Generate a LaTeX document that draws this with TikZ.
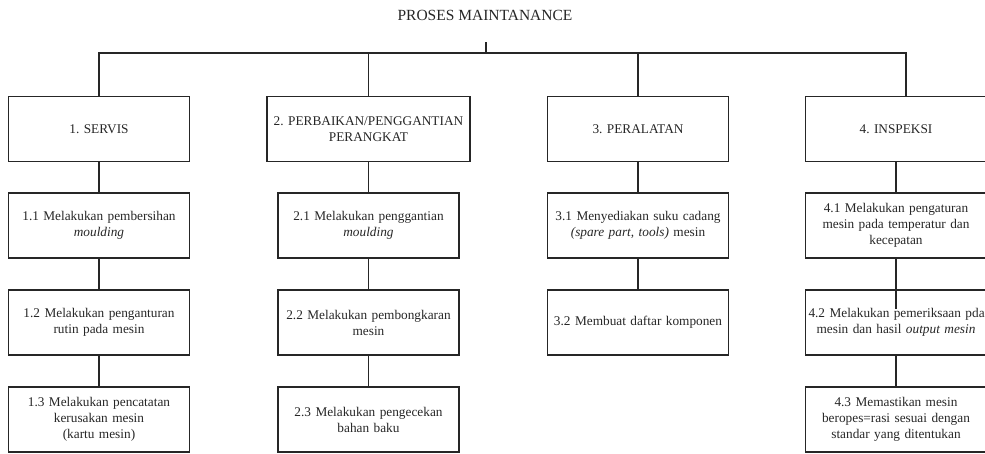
\documentclass[tikz,border=0pt]{standalone}
\usepackage{fontspec}
\setmainfont{Liberation Serif}
\usetikzlibrary{positioning}
\frenchspacing

\tikzset{
    box/.style={rectangle, draw=black!85, line width=1.4pt, text=black!85, minimum width=181pt, minimum height=65pt, text width=175pt, align=center, inner sep=2pt, font=\fontsize{13.3}{16}\selectfont},
    widebox/.style={box, minimum width=203pt, text width=197pt},
    link/.style={line width=1.4pt, black!85}
}

\begin{document}
\begin{tikzpicture}[x=1pt, y=-1pt]
    \useasboundingbox (0,0) rectangle (985,453);
    \node[text=black!85, font=\fontsize{15.5}{18}\selectfont] (title) at (485,15) {PROSES MAINTANANCE};
    \coordinate (stub) at (486,42);
    \coordinate (top) at (486,53);
    \coordinate (bl) at (99,53);
    \coordinate (br) at (906,53);

    % kategori
    \node[box] (s1) at (99,129) {1. SERVIS};
    \node[widebox] (s2) at (368.5,129) {2. PERBAIKAN/PENGGANTIAN\\PERANGKAT};
    \node[box] (s3) at (638,129) {3. PERALATAN};
    \node[box] (s4) at (896,129) {4. INSPEKSI};

    % rincian
    \node[box] (s11) at (99,225.5) {1.1 Melakukan pembersihan\\\textit{moulding}};
    \node[box] (s12) at (99,322.5) {1.2 Melakukan penganturan\\rutin pada mesin};
    \node[box] (s13) at (99,419.5) {1.3 Melakukan pencatatan\\kerusakan mesin\\(kartu mesin)};
    \node[box] (s21) at (368.5,225.5) {2.1 Melakukan penggantian\\\textit{moulding}};
    \node[box] (s22) at (368.5,322.5) {2.2 Melakukan pembongkaran\\mesin};
    \node[box] (s23) at (368.5,419.5) {2.3 Melakukan pengecekan\\bahan baku};
    \node[box] (s31) at (638,225.5) {3.1 Menyediakan suku cadang\\\textit{(spare part, tools)} mesin};
    \node[box] (s32) at (638,322.5) {3.2 Membuat daftar komponen};
    \node[box] (s41) at (896,225.5) {4.1 Melakukan pengaturan\\mesin pada temperatur dan\\kecepatan};
    \node[box] (s42) at (896,322.5) {\mbox{4.2 Melakukan pemeriksaan pda}\\mesin dan hasil \textit{output mesin}};
    \node[box] (s43) at (896,419.5) {4.3 Memastikan mesin\\beropes=rasi sesuai dengan\\standar yang ditentukan};

    \draw[link] (stub)--(top);
    \draw[link] (s1.north)--(bl)--(br)--(br |- s4.north);
    \draw[link] (s2.north |- top)--(s2.north);
    \draw[link] (s3.north |- top)--(s3.north);

    \draw[link] (s1)--(s11) (s11)--(s12) (s12)--(s13);
    \draw[link] (s2)--(s21) (s21)--(s22) (s22)--(s23);
    \draw[link] (s3)--(s31) (s31)--(s32);
    \draw[link] (s4)--(s41) (s42)--(s43);
    \draw[link] (s41.south)--([yshift=-20pt]s42.north);
\end{tikzpicture}
\end{document}
